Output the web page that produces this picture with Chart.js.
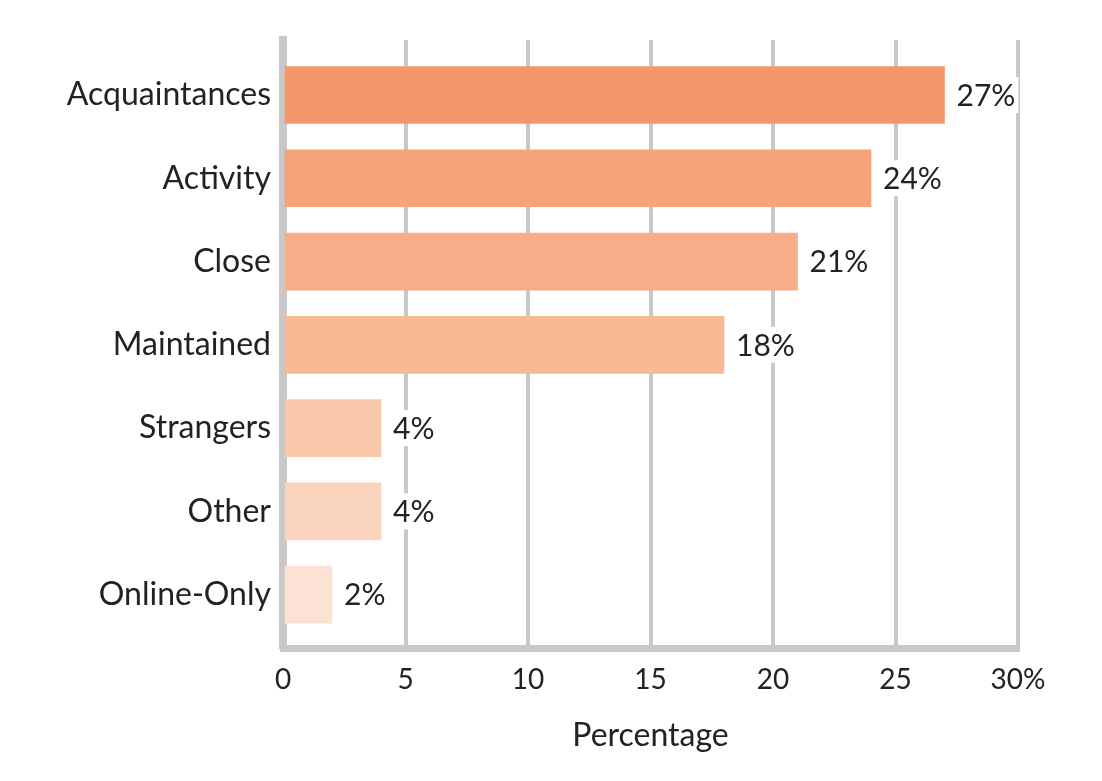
<!DOCTYPE html>
<html>
<head>
<meta charset="utf-8">
<script src="https://cdn.jsdelivr.net/npm/chart.js@4"></script>
<style>
  html, body { margin: 0; padding: 0; background: #fff; }
  #wrap { width: 1102px; height: 781px; }
</style>
</head>
<body>
<div id="wrap"><canvas id="chart" width="1102" height="781"></canvas></div>
<script>
// ── Data ────────────────────────────────────────────────────────────────
const CATEGORIES = ["Acquaintances", "Activity", "Close", "Maintained", "Strangers", "Other", "Online-Only"];
const VALUES = [27, 24, 21, 18, 4, 4, 2];
const BAR_COLORS = ["#F5966B", "#F6A27B", "#F7AD88", "#F8B995", "#F9C7AC", "#FAD3BF", "#FCE2D5"];
const X_TICKS = [0, 5, 10, 15, 20, 25, 30];
const X_TITLE = "Percentage";

const FONT = "'Lato', 'Noto Sans', sans-serif";
const GRID = "#C8C8C8";
const TEXT = "#222222";

// ── Value labels with white box, right of each bar ──────────────────────
const valueLabels = {
  id: "valueLabels",
  afterDatasetsDraw(chart) {
    const ctx = chart.ctx;
    const meta = chart.getDatasetMeta(0);
    ctx.save();
    ctx.font = "30px " + FONT;
    ctx.textBaseline = "middle";
    meta.data.forEach((bar, i) => {
      const txt = VALUES[i] + "%";
      const w = ctx.measureText(txt).width;
      const x = bar.x + 12;
      ctx.fillStyle = "#fff";
      ctx.fillRect(x - 3, bar.y - 18, w + 6, 36);
      ctx.fillStyle = TEXT;
      ctx.fillText(txt, x, bar.y + 1);
    });
    ctx.restore();
  }
};

new Chart(document.getElementById("chart").getContext("2d"), {
  type: "bar",
  data: {
    datasets: [{
      data: VALUES.map((v, i) => ({ x: v, y: i })),
      backgroundColor: BAR_COLORS,
      borderWidth: 0,
      barThickness: 57,
    }]
  },
  options: {
    indexAxis: "y",
    responsive: false,
    animation: false,
    layout: { padding: { left: 0, right: 84, top: 40, bottom: 22 } },
    scales: {
      x: {
        type: "linear",
        min: 0, max: 30,
        afterBuildTicks: (s) => { s.ticks = X_TICKS.map(v => ({ value: v })); },
        ticks: {
          color: TEXT,
          font: { family: FONT, size: 28 },
          padding: 15,
          callback: (v) => v === 30 ? "30%" : String(v),
        },
        grid: { color: GRID, lineWidth: 4, drawTicks: false },
        border: { color: GRID, width: 7 },
        title: {
          display: true, text: X_TITLE, color: TEXT,
          font: { family: FONT, size: 32 }, padding: { top: 12 }
        },
        afterFit: (s) => { s.height = 133 - 22; },
      },
      y: {
        type: "linear",
        reverse: true,
        offset: false,
        min: -0.66, max: 6.64,
        z: 1,
        afterBuildTicks: (s) => { s.ticks = CATEGORIES.map((_, i) => ({ value: i })); },
        afterFit: (s) => { s.width = 283; },
        ticks: {
          color: TEXT,
          font: { family: FONT, size: 32 },
          padding: 12,
          callback: (v) => CATEGORIES[v],
        },
        grid: { display: false, drawTicks: false },
        border: { color: GRID, width: 8 },
      }
    },
    plugins: { legend: { display: false }, tooltip: { enabled: false } }
  },
  plugins: [valueLabels]
});
</script>
</body>
</html>
